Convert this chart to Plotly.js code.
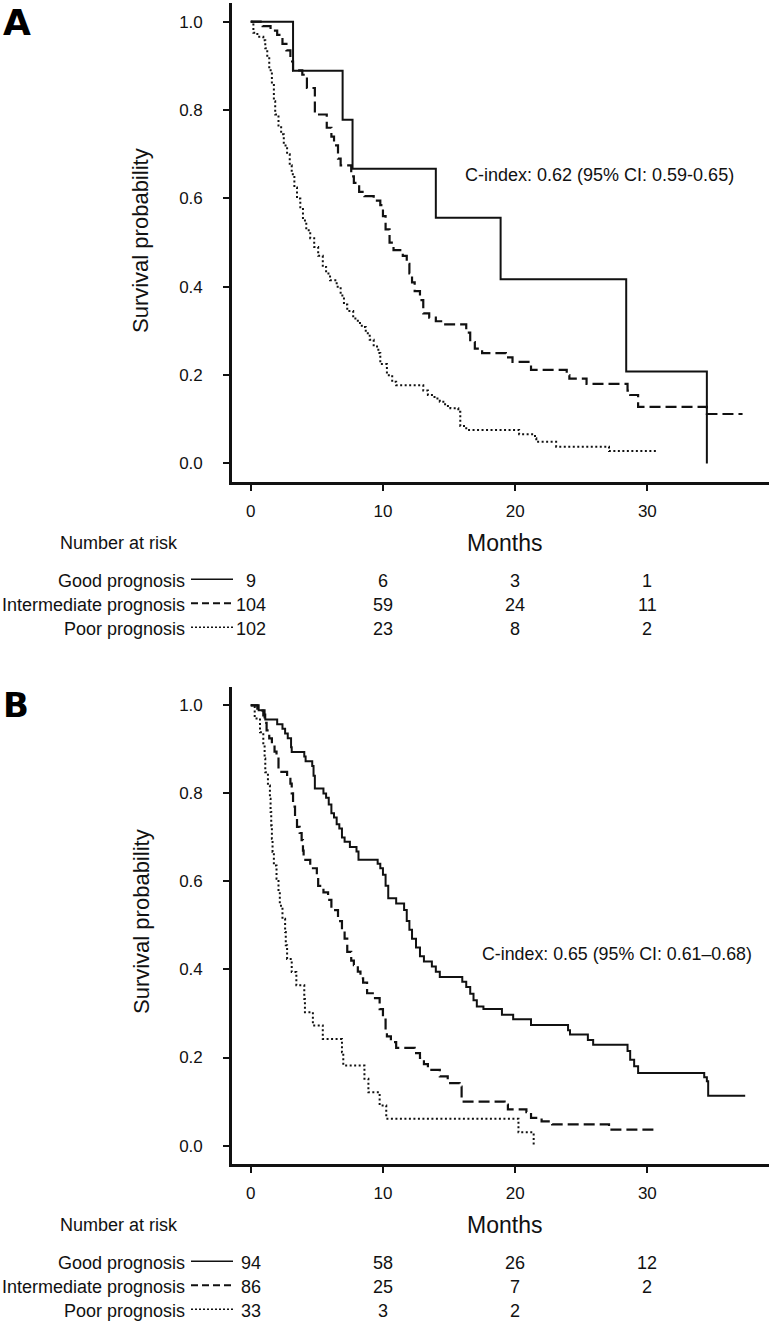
<!DOCTYPE html>
<html>
<head>
<meta charset="utf-8">
<script src="https://cdn.plot.ly/plotly-3.0.1.min.js"></script>
<style>html,body{margin:0;padding:0;background:#fff;}#chart{width:769px;height:1329px;}</style>
</head>
<body>
<div id="chart"></div>
<script>
// ---------------- DATA ----------------
const monthTicks = [0, 10, 20, 30];
const groupNames = ['Good prognosis', 'Intermediate prognosis', 'Poor prognosis'];

// Panel A - Kaplan-Meier step curves (time in months, survival after the step)
const A_good_t = [0, 3.2, 6.95, 7.7, 14.0, 18.9, 28.4, 34.5];
const A_good_s = [1, 0.889, 0.778, 0.667, 0.556, 0.417, 0.208, 0];

const A_int_t = [0, 0.9, 1.5, 2.0, 2.4, 2.7, 3.0, 3.2, 3.9, 4.25, 4.85, 5.75, 6.1, 6.3, 6.6, 6.8, 7.6, 7.8, 8.2, 8.6, 9.3, 9.8, 10.0, 10.2, 10.5, 10.8, 11.5, 11.8, 12.0, 12.2, 12.4, 12.8, 13.05, 13.5, 14.0, 14.5, 16.3, 16.6, 16.95, 17.5, 19.3, 19.8, 21.2, 23.9, 24.1, 25.4, 28.5, 28.7, 29.3, 34.5, 37.2];
const A_int_s = [1, 0.99, 0.98, 0.97, 0.95, 0.935, 0.91, 0.89, 0.88, 0.85, 0.79, 0.76, 0.74, 0.72, 0.69, 0.675, 0.65, 0.635, 0.615, 0.605, 0.595, 0.585, 0.56, 0.53, 0.5, 0.483, 0.47, 0.452, 0.43, 0.41, 0.39, 0.37, 0.34, 0.33, 0.322, 0.315, 0.296, 0.275, 0.26, 0.25, 0.24, 0.23, 0.212, 0.2, 0.192, 0.18, 0.165, 0.155, 0.128, 0.112, 0.112];

const A_poor_t = [0, 0.2, 0.5, 0.95, 1.1, 1.25, 1.4, 1.6, 1.75, 1.85, 2.1, 2.3, 2.5, 2.75, 2.95, 3.1, 3.3, 3.5, 3.75, 3.95, 4.2, 4.5, 4.8, 5.1, 5.45, 5.7, 6.0, 6.5, 6.8, 7.05, 7.3, 7.75, 8.1, 8.4, 8.7, 9.0, 9.3, 9.65, 9.8, 10.3, 10.7, 11.0, 13.05, 13.4, 13.9, 14.3, 14.7, 15.1, 15.7, 15.85, 16.3, 20.3, 21.5, 21.6, 23.1, 27.1, 30.7];
const A_poor_s = [1, 0.975, 0.966, 0.958, 0.94, 0.92, 0.89, 0.86, 0.82, 0.79, 0.765, 0.745, 0.72, 0.7, 0.675, 0.655, 0.625, 0.6, 0.58, 0.55, 0.528, 0.51, 0.49, 0.47, 0.445, 0.43, 0.415, 0.4, 0.38, 0.36, 0.345, 0.328, 0.318, 0.309, 0.295, 0.28, 0.265, 0.25, 0.225, 0.2, 0.185, 0.177, 0.165, 0.155, 0.147, 0.14, 0.13, 0.125, 0.117, 0.085, 0.076, 0.066, 0.057, 0.049, 0.038, 0.028, 0.028];

// Panel B
const B_good_t = [0, 0.6, 1.05, 1.1, 2.0, 2.4, 2.6, 2.8, 3.05, 3.1, 4.05, 4.15, 4.65, 4.75, 4.85, 5.5, 5.7, 5.9, 6.1, 6.3, 6.5, 6.7, 6.9, 7.1, 7.5, 8.0, 8.15, 9.6, 9.8, 10.0, 10.2, 10.4, 11.0, 11.6, 11.8, 12.0, 12.2, 12.5, 12.8, 13.1, 13.7, 14.0, 14.3, 16.0, 16.3, 16.6, 16.85, 17.1, 17.6, 19.0, 19.85, 21.2, 24.0, 24.15, 25.5, 25.9, 28.5, 28.7, 29.0, 29.3, 34.3, 34.5, 34.6, 37.4];
const B_good_s = [1, 0.989, 0.979, 0.968, 0.957, 0.947, 0.936, 0.925, 0.905, 0.894, 0.884, 0.873, 0.862, 0.84, 0.811, 0.8, 0.79, 0.775, 0.755, 0.745, 0.73, 0.72, 0.7, 0.69, 0.678, 0.668, 0.649, 0.64, 0.63, 0.615, 0.59, 0.562, 0.55, 0.535, 0.51, 0.49, 0.47, 0.45, 0.43, 0.418, 0.407, 0.395, 0.383, 0.372, 0.36, 0.345, 0.33, 0.316, 0.31, 0.297, 0.287, 0.274, 0.262, 0.252, 0.24, 0.229, 0.215, 0.195, 0.18, 0.165, 0.155, 0.146, 0.113, 0.113];

const B_int_t = [0, 0.5, 0.95, 1.05, 1.2, 1.4, 1.6, 1.8, 1.95, 2.1, 2.75, 3.0, 3.1, 3.2, 3.35, 3.5, 3.7, 3.85, 3.95, 4.0, 4.5, 5.0, 5.1, 5.5, 5.85, 6.1, 6.6, 6.9, 7.1, 7.3, 7.6, 7.8, 8.1, 8.3, 8.5, 8.8, 9.4, 9.75, 10.0, 10.2, 10.3, 10.6, 11.0, 12.4, 12.8, 13.1, 13.4, 14.3, 14.9, 15.8, 15.95, 19.2, 19.45, 20.85, 21.2, 22.0, 22.8, 27.1, 30.5];
const B_int_s = [1, 0.988, 0.977, 0.96, 0.943, 0.925, 0.909, 0.895, 0.883, 0.849, 0.837, 0.822, 0.8, 0.77, 0.745, 0.724, 0.71, 0.694, 0.67, 0.649, 0.63, 0.615, 0.59, 0.575, 0.558, 0.535, 0.51, 0.49, 0.47, 0.44, 0.42, 0.41, 0.395, 0.38, 0.37, 0.346, 0.335, 0.31, 0.286, 0.26, 0.248, 0.235, 0.222, 0.21, 0.199, 0.185, 0.172, 0.157, 0.142, 0.134, 0.1, 0.093, 0.082, 0.076, 0.063, 0.055, 0.048, 0.036, 0.036];

const B_poor_t = [0, 0.3, 0.7, 0.95, 1.05, 1.1, 1.3, 1.45, 1.5, 1.55, 1.6, 1.65, 1.75, 1.95, 2.1, 2.2, 2.4, 2.6, 2.65, 2.75, 3.1, 3.45, 4.05, 4.1, 4.7, 5.45, 6.9, 7.0, 8.6, 8.9, 9.75, 10.25, 20.25, 21.4];
const B_poor_s = [1, 0.97, 0.939, 0.909, 0.879, 0.848, 0.818, 0.788, 0.758, 0.727, 0.697, 0.667, 0.636, 0.606, 0.576, 0.545, 0.515, 0.485, 0.455, 0.424, 0.394, 0.364, 0.333, 0.303, 0.273, 0.242, 0.212, 0.182, 0.152, 0.121, 0.091, 0.061, 0.03, 0];

// Number at risk tables
const A_risk_good = [9, 6, 3, 1];
const A_risk_int = [104, 59, 24, 11];
const A_risk_poor = [102, 23, 8, 2];
const B_risk_good = [94, 58, 26, 12];
const B_risk_int = [86, 25, 7, 2];
const B_risk_poor = [33, 3, 2];

const cIndexA = 'C-index: 0.62 (95% CI: 0.59-0.65)';
const cIndexB = 'C-index: 0.65 (95% CI: 0.61\u20130.68)';

// ---------------- LAYOUT HELPERS ----------------
const W = 769, H = 1329;
const FONT = 'Liberation Sans, Arial, Helvetica, sans-serif';
const INK = '#111';
const px = v => v / W;
const py = v => 1 - v / H;

const styles = [
  {dash: 'solid', width: 2},
  {dash: '11px,5px', width: 2.2},
  {dash: '2px,2.5px', width: 2}
];

function km(t, s, i, xa, ya) {
  return {x: t, y: s, mode: 'lines', xaxis: xa, yaxis: ya, showlegend: false, hoverinfo: 'skip',
    line: {shape: 'hv', color: INK, width: styles[i].width, dash: styles[i].dash}};
}

const data = [
  km(A_good_t, A_good_s, 0, 'x', 'y'),
  km(A_int_t, A_int_s, 1, 'x', 'y'),
  km(A_poor_t, A_poor_s, 2, 'x', 'y'),
  km(B_good_t, B_good_s, 0, 'x2', 'y2'),
  km(B_int_t, B_int_s, 1, 'x2', 'y2'),
  km(B_poor_t, B_poor_s, 2, 'x2', 'y2')
];

const axisX0 = 231.7;
const panels = [
  {top: 3.3, bottom: 482.3, xref: 'x', letter: 'A', letterSize: 36, letterY: 0, cidx: cIndexA, cidxSize: 18, cx: 463, cy: 175, titleY: 241,
   risks: [A_risk_good, A_risk_int, A_risk_poor]},
  {top: 687, bottom: 1164.3, xref: 'x2', letter: 'B', letterSize: 34, letterY: 683, cidx: cIndexB, cidxSize: 17.8, cx: 480, cy: 954, titleY: 922,
   risks: [B_risk_good, B_risk_int, B_risk_poor]}
];

function xaxisCfg() {
  return {domain: [px(axisX0), 1], range: [-1.44, 39.2], showline: true, linecolor: INK, linewidth: 2.5,
    ticks: 'outside', ticklen: 6, tickwidth: 2, tickcolor: INK, tickvals: monthTicks, ticktext: monthTicks.map(String),
    showgrid: false, zeroline: false, ticklabelstandoff: 6,
    tickfont: {family: FONT, size: 17, color: INK}, fixedrange: true};
}
function yaxisCfg(p, anchor) {
  return {domain: [py(p.bottom), py(p.top)], range: [-0.0426, 1.0417], showline: true, linecolor: INK, linewidth: 2.5,
    ticks: 'outside', ticklen: 6, tickwidth: 2, tickcolor: INK, tickvals: [0, 0.2, 0.4, 0.6, 0.8, 1.0],
    ticktext: ['0.0', '0.2', '0.4', '0.6', '0.8', '1.0'], showgrid: false, zeroline: false, ticklabelstandoff: 17,
    tickfont: {family: FONT, size: 17, color: INK}, anchor: anchor, fixedrange: true};
}

const annotations = [];
const shapes = [];
panels.forEach(p => {
  const base = p.bottom;
  annotations.push({xref: 'paper', yref: 'paper', x: px(1), y: py(p.letterY), xanchor: 'left', yanchor: 'top',
    text: '<b>' + p.letter + '</b>', showarrow: false, font: {family: 'DejaVu Sans, Liberation Sans, sans-serif', size: p.letterSize, color: '#000'}});
  annotations.push({xref: 'paper', yref: 'paper', x: px(141), y: py(p.titleY), xanchor: 'center', yanchor: 'middle',
    text: 'Survival probability', textangle: -90, showarrow: false, font: {family: FONT, size: 22, color: INK}});
  annotations.push({xref: 'paper', yref: 'paper', x: px(504), y: py(base + 61), xanchor: 'center', yanchor: 'middle',
    text: 'Months', showarrow: false, font: {family: FONT, size: 23, color: INK}});
  annotations.push({xref: 'paper', yref: 'paper', x: px(p.cx), y: py(p.cy), xanchor: 'left', yanchor: 'middle',
    text: p.cidx, showarrow: false, font: {family: FONT, size: p.cidxSize, color: INK}});
  annotations.push({xref: 'paper', yref: 'paper', x: px(58), y: py(base + 61), xanchor: 'left', yanchor: 'middle',
    text: 'Number at risk', showarrow: false, font: {family: FONT, size: 18, color: INK}});
  const rowOff = [99, 123, 147];
  groupNames.forEach((g, gi) => {
    const ry = base + rowOff[gi];
    annotations.push({xref: 'paper', yref: 'paper', x: px(187), y: py(ry), xanchor: 'right', yanchor: 'middle',
      text: g, showarrow: false, font: {family: FONT, size: 18, color: INK}});
    shapes.push({type: 'line', xref: 'paper', yref: 'paper', x0: px(191), x1: px(233), y0: py(ry - 2), y1: py(ry - 2),
      line: {color: INK, width: gi === 1 ? 2 : 1.6, dash: gi === 0 ? 'solid' : (gi === 1 ? '7px,4px' : '2px,2px')}});
    p.risks[gi].forEach((n, k) => {
      annotations.push({xref: p.xref, yref: 'paper', x: monthTicks[k], y: py(ry), xanchor: 'center', yanchor: 'middle',
        text: String(n), showarrow: false, font: {family: FONT, size: 18, color: INK}});
    });
  });
});

const layout = {
  width: W, height: H, margin: {l: 0, r: 0, t: 0, b: 0},
  paper_bgcolor: '#fff', plot_bgcolor: '#fff', showlegend: false,
  xaxis: Object.assign(xaxisCfg(), {anchor: 'y'}),
  yaxis: yaxisCfg(panels[0], 'x'),
  xaxis2: Object.assign(xaxisCfg(), {anchor: 'y2'}),
  yaxis2: yaxisCfg(panels[1], 'x2'),
  annotations: annotations,
  shapes: shapes
};

Plotly.newPlot('chart', data, layout, {displayModeBar: false, staticPlot: true});
</script>
</body>
</html>
